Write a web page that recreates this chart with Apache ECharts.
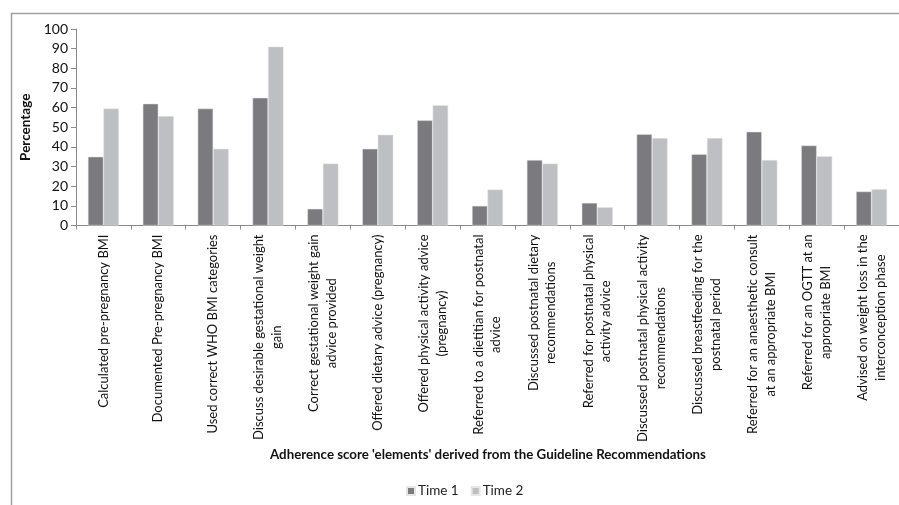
<!DOCTYPE html>
<html>
<head>
<meta charset="utf-8">
<script src="https://cdn.jsdelivr.net/npm/echarts@6/dist/echarts.min.js"></script>
<style>
  html, body { margin: 0; padding: 0; background: #fff; }
  #chart { width: 899px; height: 505px; }
</style>
</head>
<body>
<div id="chart"></div>
<script>
// categories (line breaks as in the original labels)
var categories = [
  "Calculated pre-pregnancy BMI",
  "Documented Pre-pregnancy BMI",
  "Used correct WHO BMI categories",
  "Discuss desirable gestational weight\ngain",
  "Correct gestational weight gain\nadvice provided",
  "Offered dietary advice (pregnancy)",
  "Offered physical activity advice\n(pregnancy)",
  "Referred to a dietitian for postnatal\nadvice",
  "Discussed postnatal dietary\nrecommendations",
  "Referred for postnatal physical\nactivity advice",
  "Discussed postnatal physical activity\nrecommendations",
  "Discussed breastfeeding for the\npostnatal period",
  "Referred for an anaesthetic consult\nat an appropriate BMI",
  "Referred for an OGTT at an\nappropriate BMI",
  "Advised on weight loss in the\ninterconception phase"
];
var time1 = [35, 62, 59.5, 65, 8.5, 39, 53.5, 10, 33.3, 11.5, 46.5, 36.3, 47.7, 40.7, 17.3];
var time2 = [59.5, 55.7, 39, 91, 31.5, 46.2, 61.2, 18.3, 31.5, 9.3, 44.5, 44.5, 33.3, 35.3, 18.5];
var yTicks = [0, 10, 20, 30, 40, 50, 60, 70, 80, 90, 100];

var chart = echarts.init(document.getElementById("chart"));
chart.setOption({
  animation: false,
  textStyle: { fontFamily: "Lato" },
  graphic: [
    {
      type: "rect",
      shape: { x: 11.5, y: 13.5, width: 1000, height: 1000 },
      style: { fill: "none", stroke: "#a0a0a0", lineWidth: 1.5 }
    },
    {
      type: "text",
      left: 270,
      top: 448,
      style: {
        text: "Adherence score 'elements' derived from the Guideline Recommendations",
        font: "bold 13.3px Lato",
        fill: "#111"
      }
    }
  ],
  legend: {
    data: ["Time 1", "Time 2"],
    bottom: 2,
    left: 401,
    itemWidth: 8,
    itemHeight: 8,
    itemGap: 12,
    icon: "rect",
    textStyle: { fontFamily: "Lato", fontSize: 13.5, color: "#222", padding: [0, 0, 0, -2] }
  },
  grid: {
    left: 76,
    top: 29,
    width: 825,
    height: 196.5
  },
  xAxis: {
    type: "category",
    data: categories,
    axisLine: { lineStyle: { color: "#8a8a8a", width: 1 } },
    axisTick: { show: true, length: 4, lineStyle: { color: "#8a8a8a" } },
    axisLabel: {
      interval: 0,
      rotate: 90,
      margin: 9,
      formatter: function (v) {
        return v.split("\n").map(function (s) { return "{c|" + s + "}"; }).join("\n");
      },
      rich: {
        c: { align: "center", fontFamily: "Lato", fontSize: 13, color: "#111", lineHeight: 17.6 }
      }
    }
  },
  yAxis: {
    type: "value",
    min: 0,
    max: 100,
    interval: 10,
    name: "Percentage",
    nameLocation: "middle",
    nameGap: 36,
    nameTextStyle: { fontFamily: "Lato", fontWeight: "bold", fontSize: 13.5, color: "#111" },
    splitLine: { show: false },
    axisLine: { show: true, lineStyle: { color: "#8a8a8a" } },
    axisTick: { show: true, length: 5, lineStyle: { color: "#8a8a8a" } },
    axisLabel: {
      margin: 8,
      fontFamily: "Lato",
      fontSize: 14,
      color: "#111",
      formatter: function (v) { return yTicks.indexOf(v) >= 0 ? String(v) : ""; }
    }
  },
  series: [
    {
      name: "Time 1",
      type: "bar",
      data: time1,
      barWidth: 15.5,
      barGap: "0%",
      itemStyle: { color: "#7b7b7f", borderColor: "#e6e6e6", borderWidth: 0.5 }
    },
    {
      name: "Time 2",
      type: "bar",
      data: time2,
      barWidth: 15.5,
      itemStyle: { color: "#bebfc3", borderColor: "#e6e6e6", borderWidth: 0.5 }
    }
  ]
});
</script>
</body>
</html>
